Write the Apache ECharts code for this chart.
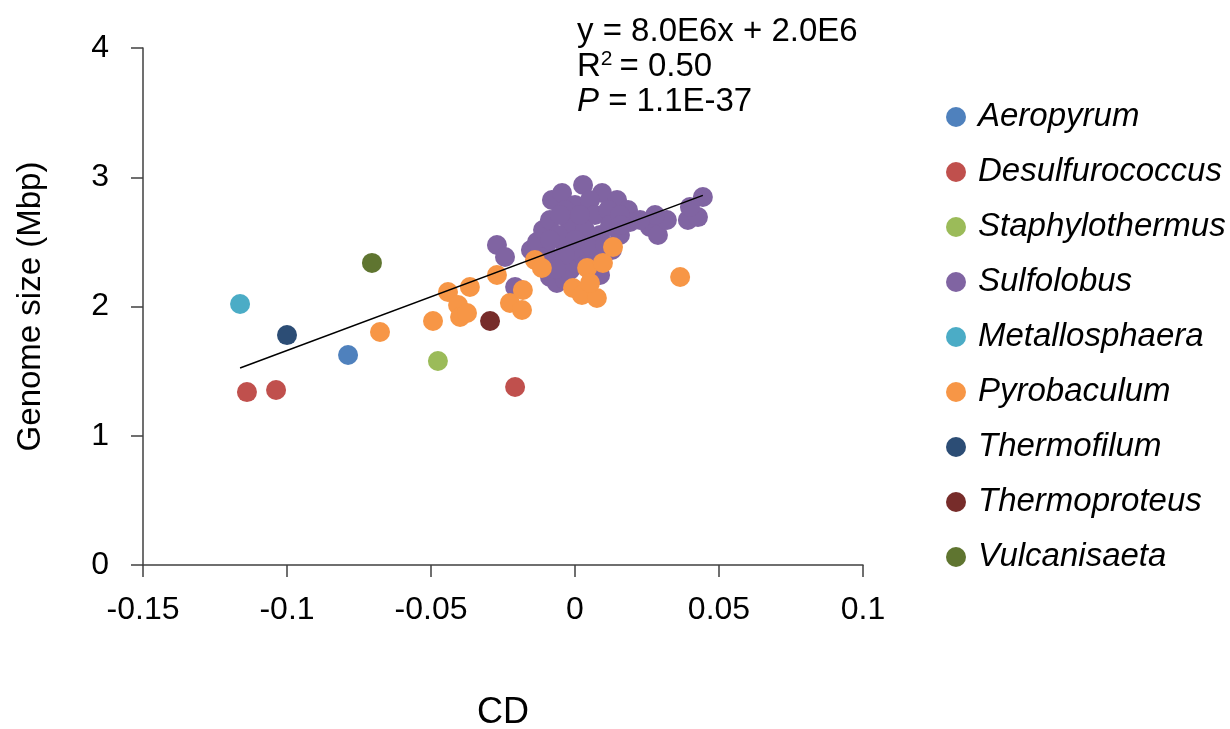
<!DOCTYPE html>
<html>
<head>
<meta charset="utf-8">
<script src="https://cdn.jsdelivr.net/npm/echarts@6/dist/echarts.min.js"></script>
<style>
  html, body { margin: 0; padding: 0; background: #fff; }
  #main { width: 1230px; height: 729px; }
</style>
</head>
<body>
<div id="main"></div>
<script>
// species names, in legend order
var species = ['Aeropyrum', 'Desulfurococcus', 'Staphylothermus', 'Sulfolobus',
    'Metallosphaera', 'Pyrobaculum', 'Thermofilum', 'Thermoproteus', 'Vulcanisaeta'];
var colors = ['#4F81BD', '#C0504D', '#9BBB59', '#8064A2',
    '#4BACC6', '#F79646', '#2C4D75', '#772C2A', '#5F7530'];

// [CD, genome size (Mbp)]
var aeropyrum = [[-0.0788, 1.625]];
var desulfurococcus = [[-0.1139, 1.338], [-0.1038, 1.354], [-0.0208, 1.377]];
var staphylothermus = [[-0.0476, 1.578]];
var sulfolobus = [
    [-0.0271, 2.476], [-0.0243, 2.383], [-0.0208, 2.151], [-0.0153, 2.437],
    [-0.0132, 2.499], [-0.0111, 2.592], [-0.0087, 2.669], [-0.0080, 2.824],
    [-0.0045, 2.878], [0.0028, 2.940], [0.0094, 2.878], [0.0146, 2.824],
    [0.0184, 2.747], [0.0191, 2.654], [0.0156, 2.553], [0.0128, 2.437],
    [-0.0087, 2.228], [-0.0063, 2.182], [-0.0094, 2.398], [-0.0052, 2.321],
    [-0.0035, 2.476], [-0.0017, 2.631], [0.0000, 2.785], [0.0052, 2.824],
    [0.0069, 2.708], [0.0035, 2.592], [0.0087, 2.553], [0.0017, 2.398],
    [0.0069, 2.398], [-0.0017, 2.282], [-0.0035, 2.747], [0.0115, 2.747],
    [0.0122, 2.631], [-0.0059, 2.553], [0.0052, 2.282],
    [-0.0052, 2.708], [0.0017, 2.708], [0.0052, 2.476], [0.0104, 2.476],
    [0.0000, 2.515], [-0.0035, 2.398], [-0.0087, 2.515], [0.0156, 2.708],
    [0.0035, 2.321], [0.0087, 2.244], [-0.0035, 2.205], [-0.0066, 2.290],
    [-0.0128, 2.360], [0.0160, 2.630],
    [0.0260, 2.615], [0.0288, 2.553], [0.0319, 2.669], [0.0278, 2.708],
    [0.0392, 2.669], [0.0427, 2.692], [0.0444, 2.847], [0.0399, 2.770],
    [0.0226, 2.669]
];
var metallosphaera = [[-0.1163, 2.019]];
var pyrobaculum = [
    [-0.0677, 1.803], [-0.0493, 1.888], [-0.0441, 2.112], [-0.0406, 2.012],
    [-0.0399, 1.919], [-0.0375, 1.950], [-0.0365, 2.151], [-0.0271, 2.244],
    [-0.0226, 2.027], [-0.0181, 2.128], [-0.0184, 1.973], [-0.0139, 2.360],
    [-0.0115, 2.298], [-0.0007, 2.143], [0.0024, 2.089], [0.0076, 2.066],
    [0.0042, 2.298], [0.0052, 2.182], [0.0097, 2.337], [0.0132, 2.460],
    [0.0365, 2.228]
];
var thermofilum = [[-0.1000, 1.779]];
var thermoproteus = [[-0.0295, 1.888]];
var vulcanisaeta = [[-0.0705, 2.337]];

var seriesData = [aeropyrum, desulfurococcus, staphylothermus, sulfolobus,
    metallosphaera, pyrobaculum, thermofilum, thermoproteus, vulcanisaeta];

// linear trend line end points
var trendLine = [[-0.1163, 1.524], [0.0444, 2.860]];

var xTicks = { min: -0.15, max: 0.1, interval: 0.05 };
var yTicks = { min: 0, max: 4, interval: 1 };

var myChart = echarts.init(document.getElementById('main'));
var font = '"Liberation Sans", Arial, sans-serif';
var axisColor = '#404040';

var series = species.map(function (name, i) {
    return {
        name: name,
        type: 'scatter',
        data: seriesData[i],
        symbol: 'circle',
        symbolSize: 20,
        itemStyle: { color: colors[i], opacity: 1 },
        z: 2 + i
    };
});
series.push({
    name: 'trend',
    type: 'line',
    data: trendLine,
    symbol: 'none',
    lineStyle: { color: '#000', width: 1.5 },
    z: 20,
    silent: true
});

var option = {
    backgroundColor: '#fff',
    animation: false,
    grid: { left: 143, right: 367, top: 48, bottom: 164, containLabel: false, outerBoundsMode: 'none' },
    legend: {
        data: species,
        orient: 'vertical',
        left: 941,
        top: 94,
        icon: 'circle',
        itemWidth: 20,
        itemHeight: 20,
        itemGap: 19,
        textStyle: {
            fontFamily: font, fontSize: 33, fontStyle: 'italic', color: '#000',
            lineHeight: 36, padding: [0, 0, 0, 7]
        }
    },
    xAxis: {
        type: 'value',
        min: xTicks.min, max: xTicks.max, interval: xTicks.interval,
        name: 'CD',
        nameLocation: 'middle',
        nameGap: 130,
        nameTextStyle: { fontFamily: font, fontSize: 36, color: '#000' },
        axisLine: { onZero: false, lineStyle: { color: axisColor, width: 1.5 } },
        axisTick: { show: true, inside: false, length: 12, lineStyle: { color: axisColor, width: 1.5 } },
        axisLabel: { fontFamily: font, fontSize: 32, color: '#000', margin: 29 },
        splitLine: { show: false }
    },
    yAxis: {
        type: 'value',
        min: yTicks.min, max: yTicks.max, interval: yTicks.interval,
        name: 'Genome size (Mbp)',
        nameLocation: 'middle',
        nameGap: 96,
        nameTextStyle: { fontFamily: font, fontSize: 33, color: '#000' },
        axisLine: { show: true, onZero: false, lineStyle: { color: axisColor, width: 1.5 } },
        axisTick: { show: true, inside: false, length: 12, lineStyle: { color: axisColor, width: 1.5 } },
        axisLabel: { fontFamily: font, fontSize: 32, color: '#000', margin: 34 },
        splitLine: { show: false }
    },
    graphic: [{
        type: 'text',
        left: 577,
        top: 15,
        style: {
            text: '{n|y = 8.0E6x + 2.0E6}\n{n|R}{sup|2}{n|= 0.50}\n{i|P}{n| = 1.1E-37}',
            rich: {
                n: { fontFamily: font, fontSize: 33, lineHeight: 35, fill: '#000' },
                sup: { fontFamily: font, fontSize: 21, lineHeight: 35, verticalAlign: 'top', padding: [0, 7, 12, 0], fill: '#000' },
                i: { fontFamily: font, fontSize: 33, lineHeight: 35, fontStyle: 'italic', fill: '#000' }
            }
        }
    }],
    series: series
};
myChart.setOption(option);
</script>
</body>
</html>
